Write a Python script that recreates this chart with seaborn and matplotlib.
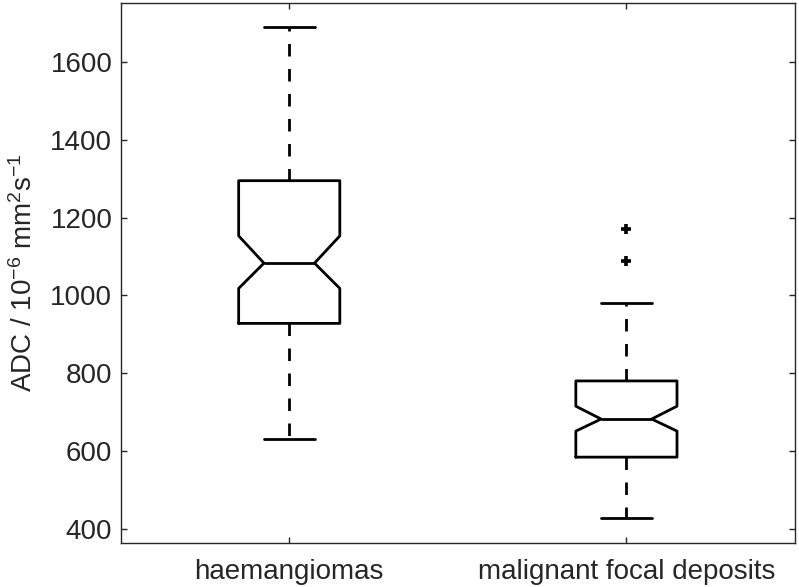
import matplotlib
matplotlib.use("Agg")
import matplotlib.pyplot as plt
import seaborn as sns

categories = ["haemangiomas", "malignant focal deposits"]
medians = [1083, 682]
q1 = [928, 584]
q3 = [1295, 780]
whisker_low = [631, 427]
whisker_high = [1691, 980]
notch_low = [1018, 651]
notch_high = [1153, 715]
outliers = [[], [1089, 1172]]
yticks = [400, 600, 800, 1000, 1200, 1400, 1600]

sns.set_style("white")
plt.rcParams["font.family"] = ["Liberation Sans", "DejaVu Sans"]
plt.rcParams["mathtext.fontset"] = "custom"
plt.rcParams["mathtext.rm"] = "Liberation Sans"
plt.rcParams["mathtext.it"] = "Liberation Sans"

fig = plt.figure(figsize=(7.99, 5.87), dpi=100)
ax = fig.add_axes([0.151, 0.0755, 0.844, 0.9194])

stats = []
for i, name in enumerate(categories):
    stats.append(dict(label=name, med=medians[i], q1=q1[i], q3=q3[i],
                      whislo=whisker_low[i], whishi=whisker_high[i],
                      cilo=notch_low[i], cihi=notch_high[i], fliers=outliers[i]))

lw = 2.0
ax.bxp(stats, positions=[1, 2], widths=0.30, shownotches=True,
       boxprops=dict(color="black", linewidth=lw),
       medianprops=dict(color="black", linewidth=lw),
       whiskerprops=dict(color="black", linewidth=lw, linestyle=(0, (4.5, 4.5))),
       capprops=dict(color="black", linewidth=lw),
       flierprops=dict(marker="+", markersize=7, markeredgewidth=2.6,
                       markeredgecolor="black", linestyle="none"))

ax.set_xlim(0.5, 2.5)
ax.set_ylim(364, 1752)
ax.set_yticks(yticks)
ax.set_xticks([1, 2])
ax.set_xticklabels(categories)
ax.set_ylabel(r"ADC / 10$^{-6}$ mm$^{2}$s$^{-1}$", fontsize=20, color="#262626", labelpad=9)

ax.tick_params(axis="both", direction="in", length=4, width=1, color="#262626",
               labelsize=20, labelcolor="#262626", top=True, right=True, left=True, bottom=True)
ax.tick_params(axis="x", pad=12)
ax.tick_params(axis="y", pad=6)
for s in ax.spines.values():
    s.set_visible(True)
    s.set_color("#262626")
    s.set_linewidth(1.0)

fig.savefig("out.png", dpi=100, facecolor="white")
